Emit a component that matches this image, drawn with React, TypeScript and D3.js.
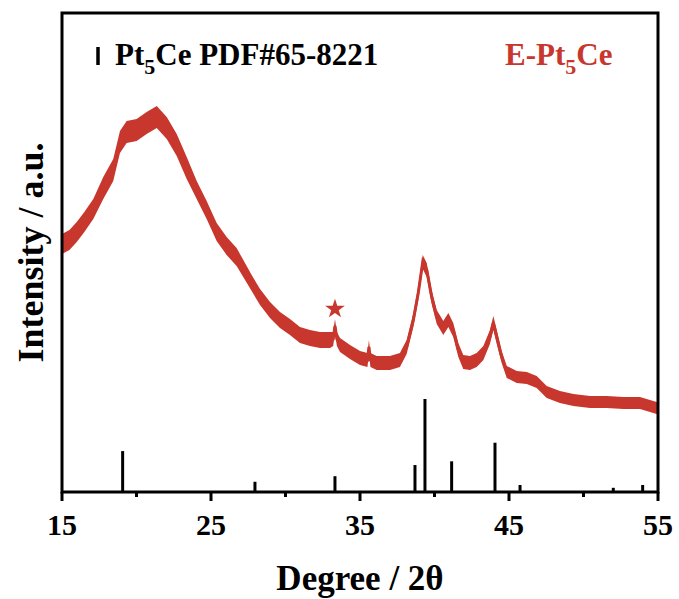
import React from "react";
import * as d3 from "d3";

// Measured pattern (2θ, degrees) and relative intensity of the red trace (a.u.)
const twoTheta = [15.0, 15.5, 15.99, 16.5, 17.1, 17.77, 18.44, 18.89, 19.34, 20.01, 20.68, 21.36, 22.03, 22.7, 23.37, 24.04, 24.71, 25.38, 26.05, 26.72, 27.73, 28.29, 28.96, 29.63, 30.3, 30.97, 31.64, 32.32, 32.99, 33.2, 33.32, 33.45, 33.66, 34.33, 35.0, 35.5, 35.6, 35.7, 36.12, 37.01, 37.68, 38.13, 38.58, 38.91, 39.21, 39.48, 39.81, 40.15, 40.59, 40.93, 41.26, 41.6, 41.93, 42.38, 42.83, 43.28, 43.72, 43.95, 44.18, 44.51, 44.85, 45.52, 46.19, 46.86, 47.53, 48.42, 49.32, 50.44, 51.56, 52.67, 53.79, 54.91, 55.0];
const intensity = [248, 252, 260, 270, 283, 304, 322, 350, 360, 362, 369, 375, 364, 347, 324, 302, 282, 260, 246, 235, 209, 195, 182, 172, 165, 157, 154, 152, 152, 153, 166, 153, 147, 140, 134, 132, 145, 132, 129, 129, 132, 145, 172, 199, 230, 222, 195, 175, 164, 172, 162, 142, 130, 129, 132, 139, 155, 169, 155, 135, 120, 115, 114, 110, 100, 95, 92, 90, 90, 89, 89, 84, 84];
// Visible noise half-amplitude of the trace (a.u.)
const noise = [10, 10, 10, 10, 10, 11, 11, 11, 11, 11, 11, 11, 11, 11, 11, 9, 9, 9, 9, 9, 8, 8, 8, 8, 8, 8, 8, 8, 8, 7, 7, 7, 7, 7, 7, 7, 7, 7, 7, 7, 7, 7, 7, 7, 7, 7, 7, 7, 7, 7, 7, 7, 7, 7, 7, 7, 7, 7, 7, 6, 6, 6, 6, 6, 6, 6, 6, 6, 6, 6, 6, 6, 6];

// Reference pattern Pt5Ce PDF#65-8221
const refPos = [19.07, 27.95, 33.32, 38.69, 39.36, 41.15, 44.06, 45.74, 52.0, 53.97];
const refInt = [44, 11, 17, 29, 100, 33, 53, 7.5, 4.5, 7.5];

const majorTicks = [15, 25, 35, 45, 55];
const minorTicks = [20, 30, 40, 50];
const starAt = [33.32];

const RED = "#c8372d";
const FONT = "'Liberation Serif', 'Times New Roman', serif";

export default function App() {
  const W = 679, H = 599;
  const left = 62, right = 658, top = 13, bottom = 492;
  const x = d3.scaleLinear().domain([15, 55]).range([left, right]);
  const y = d3.scaleLinear().domain([0, 480]).range([bottom, top - 1]);
  const yRef = d3.scaleLinear().domain([0, 100]).range([bottom, bottom - 93]);

  const pts = twoTheta.map((t, i) => ({ t, v: intensity[i], n: noise[i] }));
  const area = d3
    .area<any>()
    .x((d) => x(d.t))
    .y0((d) => y(d.v - d.n))
    .y1((d) => y(d.v + d.n))
    .curve(d3.curveLinear);
  const line = d3
    .line<any>()
    .x((d) => x(d.t))
    .y((d) => y(d.v))
    .curve(d3.curveLinear);

  const star = d3.symbol().type(d3.symbolStar).size(120)();

  return (
    <svg
      width={W}
      height={H}
      style={{ position: "absolute", left: 0, top: 0, background: "#fff" }}
      fontFamily={FONT}
      fontWeight="bold"
    >
      <rect x={0} y={0} width={W} height={H} fill="#fff" />
      <defs>
        <clipPath id="plotclip">
          <rect x={left} y={top} width={right - left} height={bottom - top} />
        </clipPath>
      </defs>

      {/* trace */}
      <g clipPath="url(#plotclip)">
        <path d={area(pts) || ""} fill={RED} />
        <path d={line(pts) || ""} fill="none" stroke={RED} strokeWidth={3} />
      </g>

      {/* reference sticks */}
      {refPos.map((p, i) => (
        <line key={i} x1={x(p)} x2={x(p)} y1={bottom} y2={yRef(refInt[i])} stroke="#000" strokeWidth={3} />
      ))}

      {/* star marker */}
      {starAt.map((s, i) => (
        <path key={i} d={star || ""} transform={`translate(${x(s)},${309})`} fill={RED} />
      ))}

      {/* frame */}
      <rect x={left} y={top} width={right - left} height={bottom - top} fill="none" stroke="#000" strokeWidth={3} />

      {/* ticks */}
      {majorTicks.map((t) => (
        <g key={t}>
          <line x1={x(t)} x2={x(t)} y1={bottom} y2={bottom + 9} stroke="#000" strokeWidth={3} />
          <text x={x(t)} y={535} textAnchor="middle" fontSize={30}>
            {t}
          </text>
        </g>
      ))}
      {minorTicks.map((t) => (
        <line key={t} x1={x(t)} x2={x(t)} y1={bottom} y2={bottom + 5} stroke="#000" strokeWidth={3} />
      ))}

      {/* axis labels */}
      <text x={(left + right) / 2} y={590} textAnchor="middle" fontSize={35}>
        Degree / 2θ
      </text>
      <text
        transform={`translate(43,${(top + bottom) / 2}) rotate(-90)`}
        textAnchor="middle"
        fontSize={36}
      >
        Intensity / a.u.
      </text>

      {/* legend */}
      <line x1={98} x2={98} y1={47} y2={65} stroke="#000" strokeWidth={3.5} />
      <text x={115} y={65} fontSize={31} fill="#000">
        Pt
        <tspan dy={9} fontSize={22}>5</tspan>
        <tspan dy={-9}>Ce PDF#65-8221</tspan>
      </text>
      <text x={505} y={65} fontSize={31} fill={RED}>
        E-Pt
        <tspan dy={9} fontSize={22}>5</tspan>
        <tspan dy={-9}>Ce</tspan>
      </text>
    </svg>
  );
}
